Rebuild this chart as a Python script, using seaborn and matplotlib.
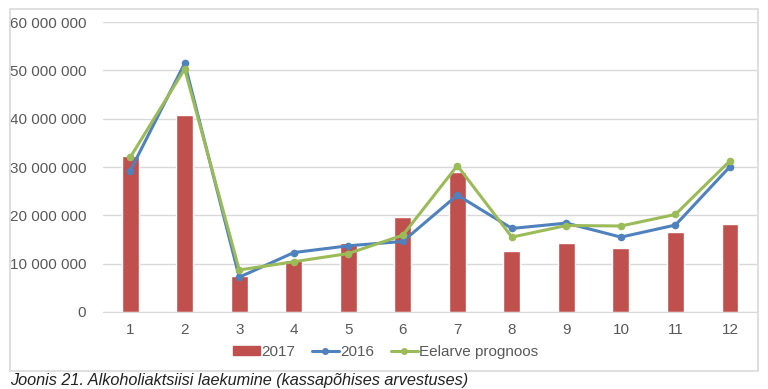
import pandas as pd
import matplotlib.pyplot as plt
import matplotlib.ticker as mticker
from matplotlib.patches import Rectangle
import seaborn as sns

# Andmed (loetud jooniselt)
kuud = [1, 2, 3, 4, 5, 6, 7, 8, 9, 10, 11, 12]
laekumine_2017 = [32.3, 40.8, 7.45, 10.8, 14.3, 19.6, 29.0, 12.7, 14.2, 13.2, 16.6, 18.2]
laekumine_2016 = [29.2, 51.5, 7.2, 12.3, 13.7, 14.6, 24.2, 17.3, 18.4, 15.5, 18.0, 30.1]
eelarve_prognoos = [32.0, 50.3, 8.7, 10.4, 12.1, 15.9, 30.3, 15.5, 17.9, 17.8, 20.2, 31.3]

df = pd.DataFrame({
    'kuu': kuud,
    '2017': [v * 1e6 for v in laekumine_2017],
    '2016': [v * 1e6 for v in laekumine_2016],
    'Eelarve prognoos': [v * 1e6 for v in eelarve_prognoos],
})

sns.set_style('white')
plt.rcParams['font.family'] = ['Liberation Sans', 'DejaVu Sans']

punane = '#C0504D'
sinine = '#4F81BD'
roheline = '#9BBB59'
hall = '#595959'

fig = plt.figure(figsize=(7.68, 3.89), dpi=100)
ax = fig.add_axes([0.134, 0.198, 0.852, 0.745])

# raam ümber joonise
fig.patches.append(Rectangle((10 / 768, 1 - 371 / 389), 748 / 768, 362 / 389,
                             transform=fig.transFigure, fill=False,
                             edgecolor='#D9D9D9', linewidth=1.2))

sns.barplot(data=df, x='kuu', y='2017', native_scale=True, width=0.31,
            color=punane, saturation=1, ax=ax, zorder=2)
sns.lineplot(data=df, x='kuu', y='2016', color=sinine, marker='o', markersize=5.5,
             markeredgewidth=0, linewidth=2.2, ax=ax, zorder=3)
sns.lineplot(data=df, x='kuu', y='Eelarve prognoos', color=roheline, marker='o',
             markersize=5.5, markeredgewidth=0, linewidth=2.2, ax=ax, zorder=4)

ax.set_xlim(0.5, 12.5)
ax.set_ylim(0, 60e6)
ax.set_xticks(kuud)
ax.set_xticklabels([str(k) for k in kuud])
ax.yaxis.set_major_locator(mticker.MultipleLocator(10e6))
ax.yaxis.set_major_formatter(mticker.FuncFormatter(lambda v, p: f'{int(v):,}'.replace(',', ' ')))
ax.grid(axis='y', color='#D9D9D9', linewidth=1, zorder=0)
ax.set_axisbelow(True)
for s in ['top', 'right', 'left']:
    ax.spines[s].set_visible(False)
ax.spines['bottom'].set_color('#D9D9D9')
ax.tick_params(axis='both', labelsize=11, labelcolor=hall, length=0, pad=8)
ax.tick_params(axis='y', pad=12)
ax.set_xlabel('')
ax.set_ylabel('')

handles = [
    Rectangle((0, 0), 1, 1, color=punane),
    plt.Line2D([], [], color=sinine, marker='o', markersize=4, linewidth=2.2),
    plt.Line2D([], [], color=roheline, marker='o', markersize=4, linewidth=2.2),
]
leg = ax.legend(handles, ['2017', '2016', 'Eelarve prognoos'], ncol=3, frameon=False,
                loc='center', bbox_to_anchor=(0.432, -0.138), fontsize=11,
                handlelength=1.75, handleheight=0.45, handletextpad=0.1,
                columnspacing=1.1, borderpad=0)
for t in leg.get_texts():
    t.set_color(hall)

fig.text(10 / 768, 1 - 381 / 389, 'Joonis 21. Alkoholiaktsiisi laekumine (kassapõhises arvestuses)',
         fontsize=11.7, style='italic', color='#222222', va='center', ha='left')

plt.savefig('out.png', dpi=100)
plt.close()
